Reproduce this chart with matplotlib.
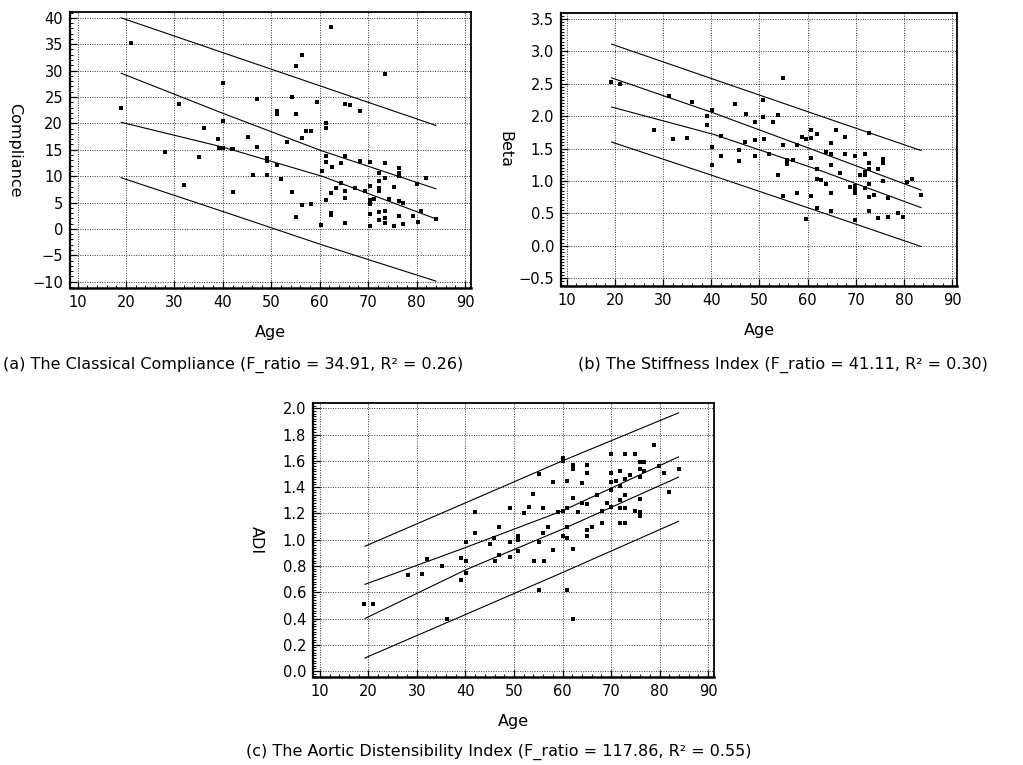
import matplotlib
matplotlib.use("Agg")
import matplotlib.pyplot as plt
from matplotlib.ticker import MultipleLocator
import numpy as np

# ---------------- Panel (a): Classical Compliance ----------------
age_a = [18.9, 21.0, 28.0, 31.0, 32.0, 35.1, 36.2, 39.0, 39.2, 40.1, 40.1, 40.1, 41.8, 42.2, 42.0,
         45.1, 46.2, 47.1, 47.1, 49.2, 49.2, 49.2, 51.1, 51.1, 51.1, 52.1, 53.2, 54.3, 54.3, 55.2,
         55.2, 55.2, 56.3, 56.3, 56.3, 57.2, 58.3, 58.3, 59.4, 60.3, 60.4, 61.3, 61.3, 61.3, 61.3,
         61.3, 62.4, 62.4, 62.4, 62.4, 62.5, 63.4, 64.3, 64.3, 65.3, 65.3, 65.3, 65.3, 65.3, 66.3,
         67.2, 68.4, 68.4, 69.3, 70.3, 70.3, 70.3, 70.3, 70.3, 70.3, 71.3, 72.2, 72.2, 72.2, 72.2,
         72.2, 72.2, 73.4, 73.4, 73.4, 73.4, 73.4, 73.4, 74.3, 75.3, 75.3, 76.3, 76.3, 76.3, 76.3,
         76.3, 77.3, 77.3, 79.3, 80.2, 80.0, 80.9, 81.9, 84.0]
comp_a = [23.0, 35.2, 14.5, 23.7, 8.3, 13.7, 19.2, 17.1, 15.4, 15.4, 27.7, 20.5, 15.1, 15.1, 7.0,
          17.4, 10.3, 15.6, 24.6, 13.5, 12.8, 10.3, 22.3, 21.7, 12.1, 9.5, 16.5, 25.0, 7.0, 30.8,
          21.7, 2.3, 32.9, 17.2, 4.6, 18.5, 4.8, 18.6, 24.1, 0.8, 11.0, 20.0, 19.2, 13.9, 12.7,
          5.4, 38.2, 6.8, 3.0, 2.6, 11.7, 7.7, 12.5, 8.7, 13.9, 7.1, 5.9, 1.1, 23.7, 23.4,
          7.7, 22.3, 12.9, 7.1, 12.6, 8.2, 5.5, 4.8, 2.9, 0.6, 5.7, 10.6, 9.0, 7.7, 7.1,
          3.2, 1.7, 12.4, 9.7, 29.4, 3.4, 2.1, 1.2, 5.7, 7.9, 0.5, 11.5, 10.6, 10.0, 5.3,
          2.5, 5.0, 1.0, 2.4, 1.4, 8.6, 3.3, 9.6, 1.9]
# fitted bands (ages, values)
band_age_a = [19.0, 40.0, 60.4, 84.0]
pred_hi_a = [40.0, 33.4, 27.0, 19.6]
conf_hi_a = [29.5, 21.9, 14.8, 7.6]
conf_lo_a = [20.2, 15.5, 10.0, 1.9]
pred_lo_a = [9.7, 3.3, -3.0, -9.9]

# ---------------- Panel (b): Stiffness Index ----------------
age_b = [19.2, 21.0, 28.1, 31.2, 32.1, 35.0, 35.9, 39.1, 39.2, 40.1, 40.1, 40.1, 42.0, 42.0, 44.9,
         45.8, 45.8, 47.0, 47.2, 49.0, 49.0, 49.0, 50.8, 50.8, 51.0, 51.9, 52.8, 53.8, 53.8, 54.9,
         54.9, 54.9, 55.8, 55.8, 56.9, 57.8, 57.8, 58.8, 59.7, 59.7, 60.7, 60.7, 60.7, 60.7, 61.9,
         61.9, 61.9, 61.9, 62.8, 63.8, 63.8, 64.8, 64.8, 64.8, 64.8, 64.8, 65.8, 66.8, 67.8, 67.8,
         68.7, 69.8, 69.8, 69.8, 69.8, 69.8, 70.8, 71.8, 71.8, 71.8, 71.8, 72.7, 72.7, 72.7, 72.7,
         72.7, 72.7, 73.7, 74.6, 74.6, 75.6, 75.6, 75.6, 76.6, 76.6, 78.7, 79.7, 80.6, 81.7, 83.5]
beta_b = [2.52, 2.49, 1.78, 2.31, 1.64, 1.67, 2.22, 2.00, 1.86, 2.10, 1.52, 1.25, 1.69, 1.38, 2.18,
          1.48, 1.31, 1.60, 2.03, 1.91, 1.63, 1.38, 2.25, 1.99, 1.64, 1.42, 1.91, 2.02, 1.09, 2.58,
          1.55, 0.77, 1.33, 1.26, 1.33, 1.55, 0.82, 1.68, 1.65, 0.41, 1.79, 1.67, 1.36, 0.77, 1.73,
          1.19, 1.03, 0.59, 1.02, 0.96, 1.45, 1.58, 1.41, 1.25, 0.82, 0.53, 1.78, 1.12, 1.68, 1.42,
          0.91, 1.38, 0.92, 0.86, 0.82, 0.40, 1.09, 1.42, 1.14, 1.09, 0.89, 1.74, 1.27, 1.18, 0.95,
          0.76, 0.54, 0.78, 1.18, 0.43, 1.34, 1.27, 1.00, 0.74, 0.44, 0.51, 0.44, 0.98, 1.03, 0.78]
band_age_b = [19.3, 40.4, 61.9, 83.5]
pred_hi_b = [3.11, 2.57, 2.02, 1.47]
conf_hi_b = [2.59, 2.05, 1.46, 0.86]
conf_lo_b = [2.14, 1.72, 1.18, 0.59]
pred_lo_b = [1.60, 1.08, 0.54, -0.01]

# ---------------- Panel (c): Aortic Distensibility Index ----------------
age_c = [19.2, 21.0, 28.1, 31.1, 36.1, 35.1, 39.1, 40.1, 40.1, 46.1, 55.2, 61.0, 62.1, 54.1, 56.1,
         32.0, 39.0, 40.1, 42.0, 42.0, 45.1, 45.9, 46.9, 46.9, 49.1, 49.1, 49.1, 50.9, 50.9, 50.9,
         52.0, 53.1, 54.0, 55.1, 56.0, 56.0, 57.0, 55.1, 58.0, 58.0, 59.0, 60.0, 60.0, 60.0, 60.0,
         61.0, 61.0, 61.0, 61.0, 62.1, 62.1, 62.1, 62.1, 63.1, 64.1, 64.1, 65.0, 65.0, 65.0, 65.0,
         65.0, 66.0, 67.1, 68.1, 68.1, 69.1, 70.0, 70.0, 70.0, 70.0, 70.0, 71.0, 71.9, 71.9, 71.9,
         71.9, 71.9, 72.9, 72.9, 72.9, 72.9, 72.9, 74.0, 75.0, 75.0, 75.9, 75.9, 75.9, 75.9, 75.9,
         75.9, 76.8, 76.8, 78.9, 79.9, 81.0, 81.9, 83.9]
adi_c = [0.51, 0.51, 0.73, 0.74, 0.40, 0.80, 0.69, 0.75, 0.84, 0.84, 0.62, 0.62, 0.40, 0.84, 0.84,
         0.85, 0.86, 0.98, 1.21, 1.05, 0.97, 1.01, 1.10, 0.88, 1.24, 0.98, 0.87, 1.03, 1.00, 0.91,
         1.20, 1.25, 1.35, 0.98, 1.24, 1.05, 1.10, 1.50, 1.44, 0.92, 1.21, 1.62, 1.60, 1.03, 1.22,
         1.45, 1.24, 1.10, 1.01, 1.57, 1.54, 1.32, 0.93, 1.21, 1.43, 1.28, 1.57, 1.51, 1.27, 1.07,
         1.03, 1.10, 1.34, 1.22, 1.13, 1.28, 1.65, 1.51, 1.44, 1.25, 1.38, 1.45, 1.52, 1.41, 1.30,
         1.24, 1.13, 1.65, 1.46, 1.34, 1.24, 1.13, 1.49, 1.65, 1.22, 1.59, 1.54, 1.48, 1.31, 1.21,
         1.18, 1.59, 1.52, 1.72, 1.56, 1.51, 1.36, 1.54]
band_age_c = [19.3, 40.0, 60.0, 83.9]
pred_hi_c = [0.95, 1.28, 1.60, 1.965]
conf_hi_c = [0.66, 0.94, 1.22, 1.63]
conf_lo_c = [0.40, 0.77, 1.08, 1.476]
pred_lo_c = [0.10, 0.43, 0.75, 1.14]

x_ticks = [10, 20, 30, 40, 50, 60, 70, 80, 90]
y_ticks_a = [-10, -5, 0, 5, 10, 15, 20, 25, 30, 35, 40]
y_ticks_b = [-0.5, 0.0, 0.5, 1.0, 1.5, 2.0, 2.5, 3.0, 3.5]
y_ticks_c = [0.0, 0.2, 0.4, 0.6, 0.8, 1.0, 1.2, 1.4, 1.6, 1.8, 2.0]

captions = ["(a) The Classical Compliance (F_ratio = 34.91, R² = 0.26)",
            "(b) The Stiffness Index (F_ratio = 41.11, R² = 0.30)",
            "(c) The Aortic Distensibility Index (F_ratio = 117.86, R² = 0.55)"]

plt.rcParams['font.family'] = ['DejaVu Sans']
W, H = 1023, 765
fig = plt.figure(figsize=(W / 100, H / 100), dpi=100)


def px_axes(left, top, right, bottom):
    return fig.add_axes([left / W, 1 - bottom / H, (right - left) / W, (bottom - top) / H])


def style(ax, xlim, ylim, yticks, yfmt, yminor, ylabel, ylabx):
    ax.set_xlim(*xlim)
    ax.set_ylim(*ylim)
    ax.set_xticks(x_ticks)
    ax.set_yticks(yticks)
    ax.set_yticklabels([yfmt.format(v).replace('-', '\u2212') for v in yticks])
    ax.xaxis.set_minor_locator(MultipleLocator(2))
    ax.yaxis.set_minor_locator(MultipleLocator(yminor))
    ax.tick_params(which='major', direction='in', length=5, width=0.9, labelsize=10.5, pad=5)
    ax.tick_params(which='minor', direction='in', length=2.5, width=0.7)
    ax.tick_params(top=False, right=False, which='both')
    ax.grid(True, which='major', linestyle=(0, (1, 1.5)), color='#333333', linewidth=0.7)
    for s in ax.spines.values():
        s.set_linewidth(1.3)
    ax.spines['bottom'].set_linewidth(1.8)
    ax.spines['left'].set_linewidth(1.6)
    ax.set_xlabel('Age', fontsize=11.5, labelpad=11)
    ax.set_ylabel(ylabel, fontsize=11.5, rotation=270, va='center')
    ax.yaxis.set_label_coords(ylabx, 0.5)


def draw(ax, ages, vals, bx, bands):
    for b in bands:
        ax.plot(bx, b, color='black', linewidth=0.8, zorder=3)
    ax.scatter(ages, vals, s=6, marker='s', color='black', linewidths=0, zorder=4)


ax_a = px_axes(70, 12, 471, 288)
draw(ax_a, age_a, comp_a, band_age_a, [pred_hi_a, conf_hi_a, conf_lo_a, pred_lo_a])
style(ax_a, (8.44, 91.24), (-11.2, 41.1), y_ticks_a, '{:g}', 1, 'Compliance', -0.137)

ax_b = px_axes(561, 13, 957, 286)
draw(ax_b, age_b, beta_b, band_age_b, [pred_hi_b, conf_hi_b, conf_lo_b, pred_lo_b])
style(ax_b, (8.8, 91.0), (-0.62, 3.59), y_ticks_b, '{:.1f}', 0.05, 'Beta', -0.141)

ax_c = px_axes(313, 403, 714, 677)
draw(ax_c, age_c, adi_c, band_age_c, [pred_hi_c, conf_hi_c, conf_lo_c, pred_lo_c])
style(ax_c, (8.6, 91.2), (-0.045, 2.04), y_ticks_c, '{:.1f}', 0.02, 'ADI', -0.14)

fig.text(3 / W, 1 - 365 / H, captions[0], ha='left', va='center', fontsize=11.5)
fig.text(578 / W, 1 - 365 / H, captions[1], ha='left', va='center', fontsize=11.5)
fig.text(752 / W, 1 - 752 / H, captions[2], ha='right', va='center', fontsize=11.5)

fig.savefig('out.png', dpi=100)
